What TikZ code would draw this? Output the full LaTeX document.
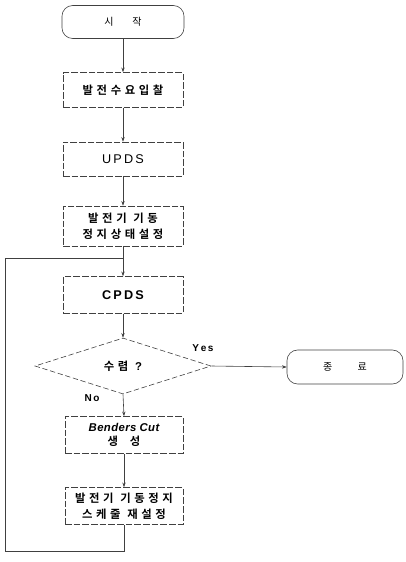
\documentclass[tikz,border=0pt]{standalone}
\usepackage{fontspec}
\setmainfont{Liberation Sans}
\newfontfamily\kr{Noto Sans CJK KR}[BoldFont={Noto Sans CJK KR Bold}]
\newcommand\gp{\hspace{2.7pt}}
\usetikzlibrary{shapes.geometric,arrows.meta}
\begin{document}
\begin{tikzpicture}[x=0.75pt,y=-0.75pt,
  lin/.style={line width=0.45pt, draw=black!75},
  term/.style={lin, rounded corners=8pt, inner sep=0pt, font=\kr\fontsize{7.5}{8}\selectfont},
  procbox/.style={lin, dash pattern=on 5pt off 1.5pt, inner sep=0pt, align=center, font=\kr\bfseries\fontsize{8.5}{12}\selectfont},
  decide/.style={lin, diamond, dash pattern=on 4pt off 2pt, inner sep=0pt, font=\kr\bfseries\fontsize{8.5}{9}\selectfont},
  conn/.style={lin, -{Stealth[length=3.5pt,width=2.5pt]}},
  lbl/.style={font=\bfseries\fontsize{7.5}{9}\selectfont}
]
\useasboundingbox (0,0) rectangle (406,562);
\node[term, minimum width=91.5pt, minimum height=24.75pt] (start) at (123,22) {시\hspace{14pt}작};
\node[procbox, minimum width=90pt, minimum height=26.25pt] (bid) at (123,90) {발\gp 전\gp 수\gp 요\gp 입\gp 찰};
\node[procbox, minimum width=90pt, minimum height=25.5pt, font=\fontsize{9.5}{11}\selectfont] (upds) at (123,159) {U\,P\,D\,S};
\node[procbox, minimum width=90pt, minimum height=30pt] (state) at (123,226) {발\gp 전\gp 기\hspace{5pt}기\gp 동\\정\gp 지\gp 상\gp 태\gp 설\gp 정};
\node[procbox, minimum width=90pt, minimum height=27.75pt, font=\bfseries\fontsize{9.5}{11}\selectfont] (cpds) at (123,295) {C\,P\,D\,S};
\node[decide, minimum width=132pt, minimum height=42pt] (conv) at (123,366) {수\gp 렴\hspace{5pt}{\rmfamily ?}};
\node[term, minimum width=87pt, minimum height=25.5pt] (end) at (345,367) {종\hspace{19pt}료};
\node[procbox, minimum width=88.5pt, minimum height=27.75pt] (cut) at (124,435) {{\rmfamily\itshape\fontsize{8.5}{10}\selectfont B\kern.3pt e\kern.3pt n\kern.3pt d\kern.3pt e\kern.3pt r\kern.3pt s C\kern.3pt u\kern.3pt t}\\[-1pt]생\hspace{9pt}성};
\node[procbox, minimum width=88.5pt, minimum height=27.75pt] (resch) at (124,506) {발\gp 전\gp 기\hspace{5pt}기\gp 동\gp 정\gp 지\\스\gp 케\gp 줄\hspace{5pt}재\gp 설\gp 정};
\coordinate (b1) at (124,551);
\coordinate (b2) at (5,551);
\coordinate (b3) at (5,258);
\coordinate (m) at (123,258);
\draw[conn] (start) -- (bid);
\draw[conn] (bid) -- (upds);
\draw[conn] (upds) -- (state);
\draw[lin] (state) -- (m);
\draw[conn] (m) -- (cpds);
\draw[conn] (cpds) -- (conv);
\draw[conn] (conv.east) -- (end.west);
\draw[conn] (conv.south) -- (cut.north);
\draw[conn] (cut) -- (resch);
\draw[lin] (resch.south) -- (b1) -- (b2) -- (b3) -- (m);
\node[lbl] (yes) at (203,348) {Y\,e\,s};
\node[lbl] (no) at (92,398) {N\,o};
\end{tikzpicture}
\end{document}
